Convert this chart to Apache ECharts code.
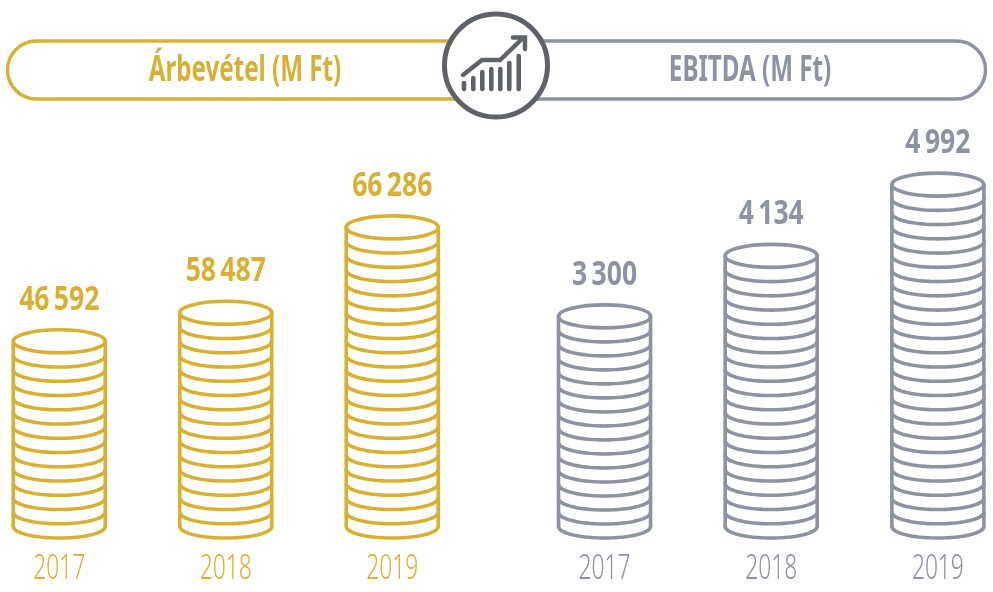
<!DOCTYPE html>
<html><head><meta charset="utf-8">
<style>html,body{margin:0;padding:0;background:#fff}#c{width:993px;height:592px}</style>
<script src="https://cdn.jsdelivr.net/npm/echarts@6/dist/echarts.min.js"></script>
</head><body><div id="c"></div>
<script>
var years = ['2017', '2018', '2019'];
var revenue = [46592, 58487, 66286];
var ebitda = [3300, 4134, 4992];
var revenueStack = [13, 15, 21];
var ebitdaStack = [14.75, 19, 24];
var revenueTitle = 'Árbevétel (M Ft)';
var ebitdaTitle = 'EBITDA (M Ft)';
var GOLD = '#DAB033', GREY = '#8D93A2', DARK = '#5F6369';
var FONT = '"Noto Sans","Open Sans",sans-serif';

function fmt(v) { return String(v).replace(/\B(?=(\d{3})+$)/g, '\u2009'); }

function coinStack(color, values) {
  return function (params, api) {
    var rx = 46, ry = 11.5, h = api.value(1), cat = api.value(0);
    var n = Math.round(h);
    var base = api.coord([cat, 0]), top = api.coord([cat, h]);
    var step = n ? (base[1] - top[1]) / n : 0;
    var style = { stroke: color, fill: 'none', lineWidth: 3.6, lineCap: 'round', lineJoin: 'round' };
    var kids = [
      { type: 'ellipse', shape: { cx: top[0], cy: top[1], rx: rx, ry: ry }, style: style },
      { type: 'line', shape: { x1: top[0] - rx, y1: top[1], x2: top[0] - rx, y2: base[1] }, style: style },
      { type: 'line', shape: { x1: top[0] + rx, y1: top[1], x2: top[0] + rx, y2: base[1] }, style: style }
    ];
    for (var i = 0; i < n; i++) {
      var pts = [];
      for (var k = 0; k <= 36; k++) {
        var a = Math.PI * k / 36;
        pts.push([base[0] + rx * Math.cos(a), base[1] - i * step + ry * Math.sin(a)]);
      }
      kids.push({ type: 'polyline', shape: { points: pts }, style: style });
    }
    kids.push({
      type: 'text', x: top[0], y: top[1] - 41.5, scaleX: 0.78,
      style: { text: fmt(values[params.dataIndex]), fill: color, font: 'bold 34px ' + FONT, align: 'center', verticalAlign: 'middle' }
    });
    kids.push({
      type: 'text', x: base[0], y: 569, scaleX: 0.65,
      style: { text: years[params.dataIndex], fill: color, font: '300 35px ' + FONT, align: 'center', verticalAlign: 'middle' }
    });
    return { type: 'group', children: kids };
  };
}

function xAxis(i) {
  return {
    type: 'category', gridIndex: i, data: years,
    axisLine: { show: false }, axisTick: { show: false }, axisLabel: { show: false }
  };
}
function yAxis(i) {
  return { type: 'value', gridIndex: i, min: 0, max: 35.1, show: false, splitLine: { show: false } };
}
function pill(x, w, color) {
  return { type: 'rect', shape: { x: x, y: 41, width: w, height: 58, r: 29 }, style: { fill: '#fff', stroke: color, lineWidth: 3.4 } };
}
function title(text, x, color, sx) {
  return { type: 'text', x: x, y: 71, scaleX: sx, style: { text: text, fill: color, font: 'bold 35px ' + FONT, align: 'center', verticalAlign: 'middle' } };
}

var iconStyle = { stroke: DARK, fill: 'none', lineWidth: 4.4, lineCap: 'round', lineJoin: 'miter' };
var barX = [464, 473.3, 482.3, 491.3, 500.3, 509.3, 518.7];
var barTop = [83, 78, 72, 69, 69, 63, 56];
var iconBars = barX.map(function (x, i) {
  return { type: 'line', shape: { x1: x, y1: barTop[i], x2: x, y2: 89 }, style: { stroke: DARK, lineWidth: 4.6, lineCap: 'round' } };
});

var chart = echarts.init(document.getElementById('c'), null, { renderer: 'canvas' });
chart.setOption({
  animation: false,
  backgroundColor: '#fff',
  grid: [
    { left: -24, width: 499.5, top: 26.5, height: 500, outerBoundsMode: 'none' },
    { left: 521.2, width: 500, top: 26.5, height: 500, outerBoundsMode: 'none' }
  ],
  xAxis: [xAxis(0), xAxis(1)],
  yAxis: [yAxis(0), yAxis(1)],
  series: [
    { type: 'custom', name: revenueTitle, xAxisIndex: 0, yAxisIndex: 0, clip: false,
      encode: { x: 0, y: 1 }, data: years.map(function (y, i) { return [i, revenueStack[i]]; }),
      renderItem: coinStack(GOLD, revenue) },
    { type: 'custom', name: ebitdaTitle, xAxisIndex: 1, yAxisIndex: 1, clip: false,
      encode: { x: 0, y: 1 }, data: years.map(function (y, i) { return [i, ebitdaStack[i]]; }),
      renderItem: coinStack(GREY, ebitda) }
  ],
  graphic: { elements: [
    pill(7.5, 480, GOLD),
    pill(505, 480.5, GREY),
    title(revenueTitle, 245, GOLD, 0.69),
    title(ebitdaTitle, 750, GREY, 0.69),
    { type: 'circle', shape: { cx: 496, cy: 65.5, r: 51.5 }, style: { fill: '#fff', stroke: DARK, lineWidth: 5 } },
    { type: 'polyline', shape: { points: [[463, 75], [482, 60], [500, 60], [522, 39]] }, style: iconStyle },
    { type: 'polyline', shape: { points: [[513, 37.5], [525, 37.5], [525, 49]] }, style: iconStyle }
  ].concat(iconBars) }
});
</script></body></html>
